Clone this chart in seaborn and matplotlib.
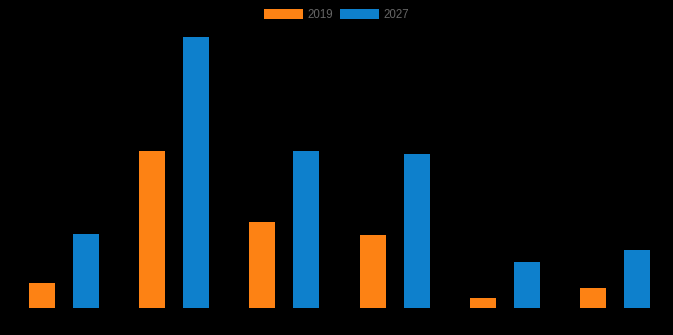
import matplotlib
matplotlib.use("Agg")
import matplotlib.pyplot as plt
import seaborn as sns
import pandas as pd
from matplotlib.patches import Patch

categories = ["A", "B", "C", "D", "E", "F"]
series_names = ["2019", "2027"]
values_2019 = [2.5, 15.7, 8.6, 7.3, 1.0, 2.0]
values_2027 = [7.4, 27.1, 15.7, 15.4, 4.6, 5.8]
colors = ["#fd8214", "#0e80cc"]

df = pd.DataFrame({
    "category": categories * 2,
    "year": [series_names[0]] * len(categories) + [series_names[1]] * len(categories),
    "value": values_2019 + values_2027,
})

sns.set_style("dark")
plt.rcParams["font.family"] = ["Liberation Sans", "DejaVu Sans"]
fig = plt.figure(figsize=(6.73, 3.35), dpi=100, facecolor="black")
W, H = 673, 335
ax = fig.add_axes([9 / W, (H - 308) / H, (670 - 9) / W, (308 - 30) / H])
ax.set_facecolor("black")

sns.barplot(data=df, x="category", y="value", hue="year", palette=colors,
            width=0.8, gap=0.41, saturation=1, ax=ax, legend=False,
            linewidth=0, edgecolor="none")

ax.set_xlim(-0.5, 5.5)
ax.set_ylim(0, 27.8)
ax.grid(False)
for s in ax.spines.values():
    s.set_visible(False)
ax.set_xticks([])
ax.set_yticks([])
ax.set_xlabel("")
ax.set_ylabel("")

handles = [Patch(facecolor=c, edgecolor="none", label=n) for c, n in zip(colors, series_names)]
fig.legend(handles=handles, loc="upper center", bbox_to_anchor=(0.5, 1.0), ncol=2,
           frameon=False, fontsize=8.3, labelcolor="#666666",
           handlelength=3.4, handleheight=1.05, handletextpad=0.4, columnspacing=0.6,
           borderaxespad=0.35)

fig.savefig("out.png", dpi=100, facecolor="black")
